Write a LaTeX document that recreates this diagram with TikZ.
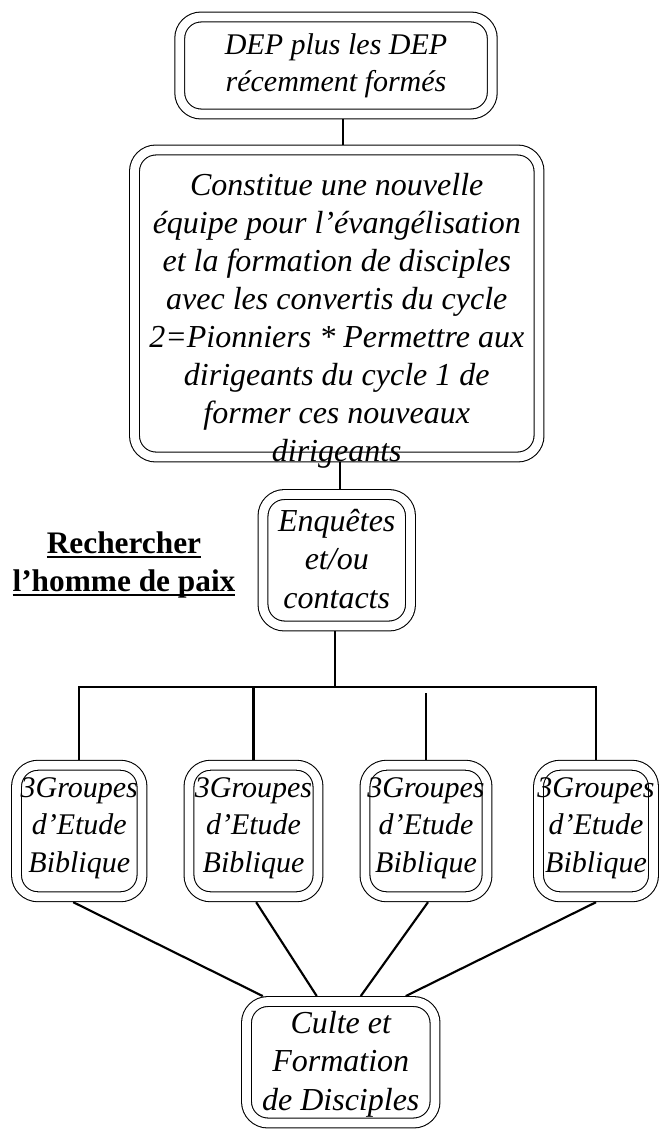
\documentclass[tikz,border=0pt]{standalone}
\usepackage{fontspec}
\setmainfont{Liberation Serif}
\newsavebox{\motbox}
\newcommand{\souligne}[1]{\sbox{\motbox}{#1}\rlap{\rule[-3pt]{\wd\motbox}{1.3pt}}\usebox{\motbox}}
\tikzset{
	dblbox/.style={draw, double, double distance=6.6pt, line width=0.8pt, rounded corners=16pt, outer sep=4.1pt, inner sep=0pt},
	boxtext/.style={align=center, inner sep=0pt, font=\itshape\fontsize{22.5}{28}\selectfont},
	bigtext/.style={align=center, inner sep=0pt, font=\itshape\fontsize{24}{29}\selectfont},
	link/.style={line width=1.6pt}}
\tikzset{every picture/.style={line width=0.75pt}}

\begin{document}
\begin{tikzpicture}[x=0.75pt,y=0.75pt,yscale=-1,xscale=1]
	\useasboundingbox (0,0) rectangle (658,1131);

	%Shape: Double Rounded Rect [id:dep]
	\node [dblbox, minimum width=234.4pt, minimum height=72.75pt] (dep) at (336,65.5) {};
	%Shape: Double Rounded Rect [id:cons]
	\node [dblbox, minimum width=303.4pt, minimum height=230.25pt] (cons) at (336.75,303.5) {};
	%Shape: Double Rounded Rect [id:enq]
	\node [dblbox, minimum width=110.6pt, minimum height=98.6pt] (enq) at (336.75,560.25) {};
	%Shape: Double Rounded Rect [id:g1]
	\node [dblbox, minimum width=94.1pt, minimum height=98.6pt] (g1) at (79.25,831) {};
	%Shape: Double Rounded Rect [id:g2]
	\node [dblbox, minimum width=96.75pt, minimum height=98.6pt] (g2) at (253.5,831) {};
	%Shape: Double Rounded Rect [id:g3]
	\node [dblbox, minimum width=91.5pt, minimum height=98.6pt] (g3) at (426,831) {};
	%Shape: Double Rounded Rect [id:g4]
	\node [dblbox, minimum width=86.25pt, minimum height=98.6pt] (g4) at (596,831) {};
	%Shape: Double Rounded Rect [id:culte]
	\node [dblbox, minimum width=141.4pt, minimum height=91.1pt] (culte) at (340.75,1062.25) {};

	%Straight Lines [id:da1]
	\draw [link] ([xshift=5.25pt]dep.south) -- ([xshift=5.25pt]dep.south |- cons.north) ;
	%Straight Lines [id:da2]
	\draw [link] ([xshift=2.4pt]cons.south) -- ([xshift=2.4pt]cons.south |- enq.north) ;
	\coordinate (bar) at (335,687) ;
	%Straight Lines [id:da3]
	\draw [link] (enq.south -| bar) -- (bar) ;
	%Straight Lines [id:da4]
	\draw [link] (g1.north) |- (g4.north |- bar) -- (g4.north) ;
	%Straight Lines [id:da5]
	\draw [link] (g2.north) -- (g2.north |- bar) ;
	%Straight Lines [id:da6]
	\draw [link] (g3.north) -- ([yshift=4.5pt]g3.north |- bar) ;
	%Straight Lines [id:da7]
	\draw [link] ([xshift=-4.5pt]g1.south) -- ([xshift=-58.5pt]culte.north) ;
	%Straight Lines [id:da8]
	\draw [link] ([xshift=2pt]g2.south) -- ([xshift=-18pt]culte.north) ;
	%Straight Lines [id:da9]
	\draw [link] ([xshift=1.5pt]g3.south) -- ([xshift=15pt]culte.north) ;
	%Straight Lines [id:da10]
	\draw [link] (g4.south) -- ([xshift=48.75pt]culte.north) ;

	% Text Node
	\node [boxtext] (deptxt) at (336,66) {DEP plus les DEP\\récemment formés};
	% Text Node
	\node [boxtext, font=\itshape\fontsize{24}{28.5}\selectfont] (constxt) at (336.75,321) {Constitue une nouvelle\\équipe pour l’évangélisation\\et la formation de disciples\\avec les convertis du cycle\\2=Pionniers * Permettre aux\\dirigeants du cycle 1 de\\former ces nouveaux\\dirigeants};
	% Text Node
	\node [bigtext] (enqtxt) at (336.75,559) {Enquêtes\\et/ou\\contacts};
	% Text Node
	\node [boxtext] (g1txt) at (79.25,828) {3Groupes\\d’Etude\\Biblique};
	% Text Node
	\node [boxtext] (g2txt) at (253.5,828) {3Groupes\\d’Etude\\Biblique};
	% Text Node
	\node [boxtext] (g3txt) at (426,828) {3Groupes\\d’Etude\\Biblique};
	% Text Node
	\node [boxtext] (g4txt) at (596,828) {3Groupes\\d’Etude\\Biblique};
	% Text Node
	\node [bigtext] (cultetxt) at (340.75,1064) {Culte et\\Formation\\de Disciples};
	% Text Node
	\node [align=center, inner sep=0pt, font=\bfseries\fontsize{23.5}{28.5}\selectfont] (paix) at (124,565) {\souligne{Rechercher}\\\souligne{l’homme de paix}};

\end{tikzpicture}
\end{document}
